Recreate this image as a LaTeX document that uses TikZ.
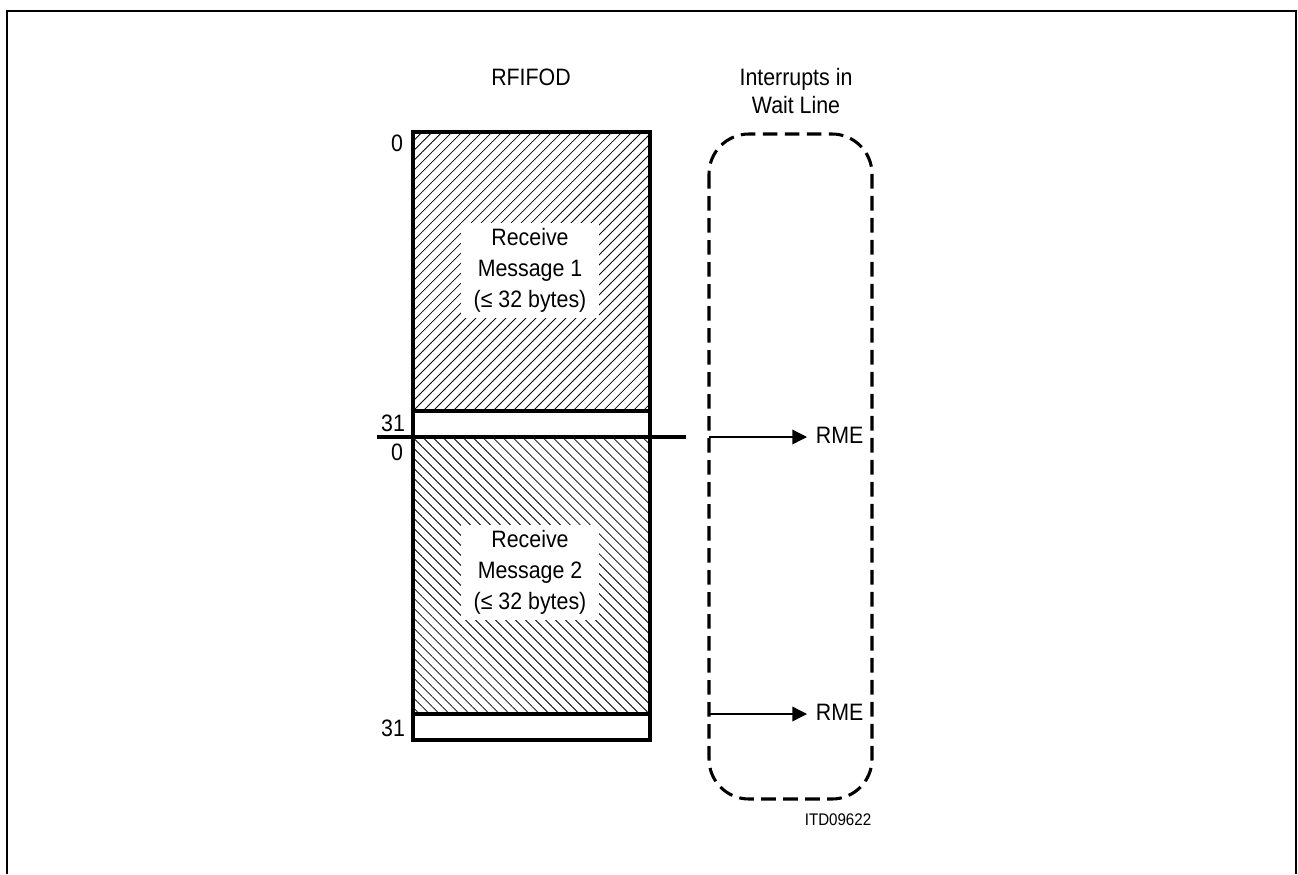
\documentclass[tikz,border=0pt]{standalone}
\usepackage{fontspec}
\setmainfont{Liberation Sans}[FakeStretch=0.9]
\usetikzlibrary{arrows.meta,patterns.meta}
\begin{document}
\begin{tikzpicture}[x=0.75pt,y=-0.75pt,
  lbl/.style={font=\fontsize{17.8}{21}\selectfont, inner sep=0pt, align=center},
  msg/.style={font=\fontsize{17.8}{23}\selectfont, inner sep=0pt, align=center, fill=white, minimum width=103pt, minimum height=71pt},
  tiny/.style={font=\fontsize{12.6}{15}\selectfont, inner sep=0pt},
  frame/.style={line width=1.6pt},
  boxline/.style={line width=2.3pt},
  hatchA/.style={pattern={Lines[angle=45,distance=5.3pt,line width=0.6pt]}},
  hatchB/.style={pattern={Lines[angle=-45,distance=5.3pt,line width=0.6pt]}},
  wait/.style={dash pattern=on 11pt off 5.5pt, line width=2.3pt, rounded corners=30pt},
  arr/.style={-{Triangle[length=11pt,width=11pt]}, line width=1pt},
  rme/.style={font=\fontsize{17.8}{21}\selectfont, inner ysep=0pt, inner xsep=6.5pt},
]
\useasboundingbox (0,0) rectangle (1298,874);
\draw[frame] (7,874) -- (7,11) -- (1296,11) -- (1296,874);

% titles
\node[lbl] (title) at (531,77) {RFIFOD};
\node[lbl] (waittitle) at (796,91) {Interrupts in\\Wait Line};

% FIFO areas
\coordinate (m1tl) at (413,132);
\coordinate (m1br) at (650,411);
\coordinate (m2tl) at (413,437);
\coordinate (m2br) at (650,714);
\coordinate (fifobr) at (650,740);
\fill[hatchA] (m1tl) rectangle (m1br);
\fill[hatchB] (m2tl) rectangle (m2br);
\node[msg] (msg1) at (530,270.5) {Receive\\Message 1\\(≤ 32 bytes)};
\node[msg] (msg2) at (530,572.5) {Receive\\Message 2\\(≤ 32 bytes)};
\draw[boxline] (m1tl) rectangle (fifobr);
\draw[boxline] (413,411) -- (m1br);
\draw[boxline] (413,714) -- (m2br);
\coordinate (divL) at (377,437);
\coordinate (divR) at (686,437);
\draw[boxline] (divL) -- (divR);

% indices
\node[lbl] (i0a) at (397,143) {0};
\node[lbl] (i31a) at (393,423) {31};
\node[lbl] (i0b) at (397,452) {0};
\node[lbl] (i31b) at (393,728) {31};

% wait line
\draw[wait] (709,134) rectangle (872,799);
\coordinate (w1) at (709,437);
\coordinate (w2) at (709,714);
\node[rme, anchor=west] (rme1) at (807,435) {RME};
\node[rme, anchor=west] (rme2) at (807,712) {RME};
\draw[arr] (w1) -- (rme1.west |- w1);
\draw[arr] (w2) -- (rme2.west |- w2);

\node[tiny] (itd) at (838,820) {ITD09622};
\end{tikzpicture}
\end{document}
